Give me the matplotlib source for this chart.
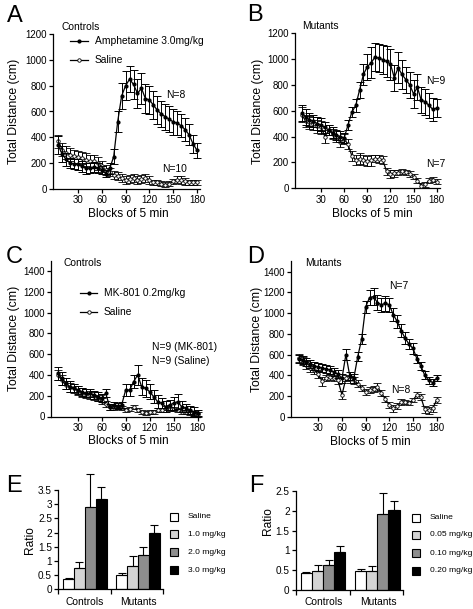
import numpy as np
import matplotlib
matplotlib.use("Agg")
import matplotlib.pyplot as plt
from matplotlib.lines import Line2D
from matplotlib.patches import Rectangle

plt.rcParams['font.family'] = ['Liberation Sans', 'DejaVu Sans']

W, H = 473, 609

# ---------------- data ----------------
blocks = list(range(5, 185, 5))

# Panel A (controls, amphetamine)
amph_ctrl = [340, 270, 230, 200, 195, 190, 175, 160, 165, 170, 165, 150, 120, 160, 250, 520,
             720, 800, 850, 810, 740, 780, 700, 690, 650, 610, 580, 560, 540, 520, 510, 490,
             460, 420, 350, 300]
amph_ctrl_err = [70, 60, 50, 40, 40, 40, 40, 40, 40, 40, 40, 30, 30, 40, 60, 80, 100, 110, 100,
                 110, 110, 120, 110, 110, 110, 110, 100, 100, 100, 100, 90, 90, 90, 80, 70, 60]
sal_ctrl_a = [370, 305, 280, 265, 255, 248, 240, 227, 214, 214, 200, 175, 145, 130, 110, 98,
              85, 72, 77, 85, 72, 77, 85, 72, 52, 52, 41, 34, 41, 59, 72, 67, 59, 52, 52, 52]
sal_ctrl_a_err = [50, 50, 50, 50, 50, 50, 50, 50, 50, 50, 50, 40, 40, 30, 30, 30, 30, 30, 30, 30,
                  30, 30, 30, 30, 20, 20, 20, 20, 20, 20, 25, 30, 30, 20, 20, 20]

# Panel B (mutants, amphetamine)
amph_mut = [580, 550, 530, 520, 500, 490, 470, 450, 430, 410, 400, 390, 490, 590, 640, 760,
            880, 940, 970, 1015, 1005, 995, 980, 960, 855, 930, 880, 840, 800, 730, 780, 680,
            670, 640, 610, 620]
amph_mut_err = [60, 60, 50, 50, 50, 50, 40, 40, 40, 40, 40, 40, 40, 40, 50, 60, 80, 100, 120,
                110, 110, 110, 120, 120, 100, 120, 110, 100, 100, 110, 100, 100, 100, 100, 90, 70]
sal_mut_b = [570, 520, 510, 500, 480, 470, 400, 450, 420, 400, 360, 380, 340, 250, 220, 230,
             220, 210, 215, 230, 225, 220, 130, 110, 115, 120, 130, 125, 110, 90, 60, 20, 30,
             60, 65, 50]
sal_mut_b_err = [60, 50, 50, 50, 50, 50, 50, 40, 40, 40, 40, 40, 40, 40, 40, 40, 40, 40, 40, 30,
                 30, 30, 30, 30, 30, 20, 20, 20, 20, 20, 20, 20, 20, 20, 20, 20]

# Panel C (controls, MK-801)
mk_ctrl = [415, 367, 319, 287, 271, 255, 239, 223, 223, 207, 191, 175, 223, 95, 111, 101, 111,
           255, 255, 335, 400, 287, 271, 239, 191, 143, 127, 95, 111, 127, 143, 95, 79, 63, 47, 37]
mk_ctrl_err = [60, 60, 50, 50, 40, 40, 40, 40, 40, 40, 40, 40, 40, 30, 30, 30, 30, 60, 60, 60,
               100, 80, 80, 70, 60, 60, 50, 50, 50, 60, 70, 50, 40, 40, 40, 30]
sal_ctrl_c = [400, 350, 300, 280, 270, 250, 230, 220, 210, 200, 180, 150, 120, 90, 80, 90, 80,
              60, 70, 90, 60, 40, 30, 40, 40, 60, 60, 80, 70, 70, 60, 40, 40, 30, 30, 20]
sal_ctrl_c_err = [50, 50, 40, 40, 40, 40, 40, 40, 40, 40, 30, 30, 30, 30, 20, 20, 20, 20, 20,
                  20, 20, 20, 20, 20, 20, 20, 20, 20, 20, 20, 20, 20, 20, 20, 20, 20]

# Panel D (mutants, MK-801)
mk_mut = [560, 550, 530, 510, 490, 480, 470, 460, 450, 430, 410, 370, 600, 390, 370, 580, 750,
          1060, 1150, 1160, 1100, 1080, 1095, 1080, 985, 920, 830, 760, 700, 660, 560, 490, 400,
          350, 330, 370]
mk_mut_err = [40, 40, 40, 40, 40, 40, 40, 40, 40, 40, 40, 40, 50, 40, 40, 40, 50, 60, 70, 80,
              70, 70, 70, 70, 60, 60, 60, 60, 50, 50, 40, 40, 40, 30, 30, 30]
sal_mut_d = [570, 540, 500, 470, 450, 410, 340, 370, 380, 370, 350, 210, 370, 360, 350, 320,
             280, 240, 255, 270, 290, 230, 170, 110, 80, 100, 140, 140, 135, 160, 210, 190, 70,
             60, 80, 160]
sal_mut_d_err = [40, 40, 40, 40, 40, 40, 40, 30, 30, 30, 30, 40, 30, 30, 30, 30, 30, 30, 30, 30,
                 40, 30, 30, 30, 30, 30, 30, 20, 20, 20, 30, 30, 30, 30, 30, 30]

# Panel E (amphetamine dose ratios)
groups = ["Controls", "Mutants"]
amph_doses = ["Saline", "1.0 mg/kg", "2.0 mg/kg", "3.0 mg/kg"]
amph_ratio_ctrl = [0.38, 0.76, 2.89, 3.18]
amph_ratio_ctrl_err = [0.03, 0.2, 1.18, 0.42]
amph_ratio_mut = [0.5, 0.83, 1.2, 2.0]
amph_ratio_mut_err = [0.06, 0.35, 0.3, 0.25]

# Panel F (MK-801 dose ratios)
mk_doses = ["Saline", "0.05 mg/kg", "0.10 mg/kg", "0.20 mg/kg"]
mk_ratio_ctrl = [0.42, 0.47, 0.63, 0.95]
mk_ratio_ctrl_err = [0.03, 0.17, 0.14, 0.16]
mk_ratio_mut = [0.48, 0.48, 1.93, 2.03]
mk_ratio_mut_err = [0.05, 0.13, 0.52, 0.23]

bar_colors = ["white", "#d4d4d4", "#8e8e8e", "black"]

# ---------------- helpers ----------------
fig = plt.figure(figsize=(W / 100, H / 100), dpi=100)


def add_ax(left, right, top, bottom):
    return fig.add_axes([left / W, 1 - bottom / H, (right - left) / W, (bottom - top) / H])


def ftext(x, y, s, **kw):
    fig.text(x / W, 1 - y / H, s, **kw)


def style(ax, fs=7):
    for sp in ["top", "right"]:
        ax.spines[sp].set_visible(False)
    for sp in ["left", "bottom"]:
        ax.spines[sp].set_linewidth(0.9)
    ax.tick_params(direction="out", length=3, width=0.9, labelsize=fs, pad=1.5)


def series(ax, x, y, e, filled):
    kw = dict(fmt="-o", color="black", lw=0.9, elinewidth=0.7, capsize=2.6, capthick=0.7,
              clip_on=False)
    if filled:
        ax.errorbar(x, y, yerr=e, ms=2.0, mfc="black", mec="black", zorder=4, **kw)
    else:
        ax.errorbar(x, y, yerr=e, ms=2.5, mfc="white", mec="black", mew=0.6, zorder=3, **kw)


def legend_entry(x0, x1, y, label, filled):
    xs = [x0 / W, x1 / W]
    ys = [1 - y / H] * 2
    fig.add_artist(Line2D(xs, ys, color="black", lw=0.9))
    xm = (x0 + x1) / 2 / W
    if filled:
        fig.add_artist(Line2D([xm], [ys[0]], marker="o", ms=2.0, color="black"))
    else:
        fig.add_artist(Line2D([xm], [ys[0]], marker="o", ms=2.5, mfc="white", mec="black",
                              mew=0.6, color="black"))
    ftext(x1 + 7, y, label, fontsize=7.4, va="center", ha="left")


def line_panel(ax, xlim, ylim, yticks, sal, sal_e, drug, drug_e):
    series(ax, blocks, sal, sal_e, False)
    series(ax, blocks, drug, drug_e, True)
    ax.set_xlim(*xlim)
    ax.set_ylim(*ylim)
    ax.set_xticks([30, 60, 90, 120, 150, 180])
    ax.set_yticks(yticks)
    style(ax)


# ---------------- panels A-D ----------------
axA = add_ax(53, 200, 34, 189)
line_panel(axA, (-1.5, 183.8), (0, 1200), range(0, 1201, 200), sal_ctrl_a, sal_ctrl_a_err,
           amph_ctrl, amph_ctrl_err)
axB = add_ax(295, 440, 33, 188.3)
line_panel(axB, (-3.8, 184.3), (0, 1200), range(0, 1201, 200), sal_mut_b, sal_mut_b_err,
           amph_mut, amph_mut_err)
axC = add_ax(51, 200, 260.6, 416.5)
line_panel(axC, (-3.4, 183), (0, 1500), range(0, 1401, 200), sal_ctrl_c, sal_ctrl_c_err,
           mk_ctrl, mk_ctrl_err)
axD = add_ax(291, 440, 261.3, 416.7)
line_panel(axD, (-4.6, 184.3), (0, 1500), range(0, 1401, 200), sal_mut_d, sal_mut_d_err,
           mk_mut, mk_mut_err)

# panel letters
for s, x, y in [("A", 7, 22), ("B", 247, 21), ("C", 6, 263), ("D", 247, 263),
                ("E", 6, 492), ("F", 249, 492)]:
    ftext(x, y, s, fontsize=17, va="baseline", ha="left")

# subtitles
ftext(61, 30, "Controls", fontsize=7.4, va="baseline")
ftext(302, 29, "Mutants", fontsize=7.4, va="baseline")
ftext(63, 265.5, "Controls", fontsize=7.4, va="baseline")
ftext(305, 265.5, "Mutants", fontsize=7.4, va="baseline")

# legends
legend_entry(70, 88, 40.7, "Amphetamine 3.0mg/kg", True)
legend_entry(70, 88, 60, "Saline", False)
legend_entry(80, 97, 292.7, "MK-801 0.2mg/kg", True)
legend_entry(80, 97, 312.3, "Saline", False)

# N labels
ftext(176, 95, "N=8", fontsize=7.4, ha="center", va="center")
ftext(175, 169, "N=10", fontsize=7.4, ha="center", va="center")
ftext(436, 81, "N=9", fontsize=7.4, ha="center", va="center")
ftext(436, 164, "N=7", fontsize=7.4, ha="center", va="center")
ftext(152, 346.7, "N=9 (MK-801)", fontsize=7.4, ha="left", va="center")
ftext(152, 360.7, "N=9 (Saline)", fontsize=7.4, ha="left", va="center")
ftext(399, 286, "N=7", fontsize=7.4, ha="center", va="center")
ftext(401, 390, "N=8", fontsize=7.4, ha="center", va="center")

# axis labels
for x, y in [(128.5, 214), (372, 214), (128.5, 441.5), (370, 442)]:
    ftext(x, y, "Blocks of 5 min", fontsize=8.6, ha="center", va="center")
for x, y in [(14, 111.5), (258, 111), (14, 338), (257, 339)]:
    ftext(x, y, "Total Distance (cm)", fontsize=8.8, ha="center", va="center", rotation=90)


# ---------------- panels E-F ----------------
def bar_panel(ax, ctrl, ctrl_e, mut, mut_e, ymax, yticks, ylabels):
    width = 0.205
    offs = (np.arange(4) - 1.5) * width
    for i in range(4):
        vals = [ctrl[i], mut[i]]
        errs = [ctrl_e[i], mut_e[i]]
        xs = np.arange(2) + offs[i]
        ax.bar(xs, vals, width=width, color=bar_colors[i], edgecolor="black", linewidth=0.8,
               zorder=2)
        ax.errorbar(xs, vals, yerr=[[0, 0], errs], fmt="none", ecolor="black", elinewidth=0.8,
                    capsize=2.6, capthick=0.8, clip_on=False, zorder=3)
    ax.set_ylim(0, ymax)
    ax.set_yticks(yticks)
    ax.set_yticklabels(ylabels)
    ax.set_xticks([])
    ax.set_xticks([-0.5, 0.5, 1.47], minor=True)
    style(ax, fs=7.2)
    ax.tick_params(axis="x", which="minor", length=3.5, width=0.9)


axE = add_ax(58.3, 163, 490, 589.3)
bar_panel(axE, amph_ratio_ctrl, amph_ratio_ctrl_err, amph_ratio_mut, amph_ratio_mut_err, 3.5,
          [0, 0.5, 1, 1.5, 2, 2.5, 3, 3.5], ["0", "0.5", "1", "1.5", "2", "2.5", "3", "3.5"])
axE.set_xlim(-0.5, 1.47)
axF = add_ax(296, 403.3, 491, 590)
bar_panel(axF, mk_ratio_ctrl, mk_ratio_ctrl_err, mk_ratio_mut, mk_ratio_mut_err, 2.5,
          [0, 0.5, 1, 1.5, 2, 2.5], ["0", "0.5", "1", "1.5", "2", "2.5"])
axF.set_xlim(-0.5, 1.48)

ftext(85, 602, groups[0], fontsize=7.4, ha="center", va="center")
ftext(138.5, 602, groups[1], fontsize=7.4, ha="center", va="center")
ftext(324, 602, groups[0], fontsize=7.4, ha="center", va="center")
ftext(378, 602, groups[1], fontsize=7.4, ha="center", va="center")
ftext(30, 540, "Ratio", fontsize=8.6, ha="center", va="center", rotation=90)
ftext(268, 521, "Ratio", fontsize=8.6, ha="center", va="center", rotation=90)


def bar_legend(x0, ys, labels):
    for i, (y, lab) in enumerate(zip(ys, labels)):
        fig.add_artist(Rectangle((x0 / W, 1 - (y + 4) / H), 8 / W, 8 / H,
                                 facecolor=bar_colors[i], edgecolor="black", lw=0.8,
                                 transform=fig.transFigure))
        ftext(x0 + 18, y, lab, fontsize=6.1, ha="left", va="center")


bar_legend(170, [516.7, 534.3, 552.3, 570], amph_doses)
bar_legend(412, [517.7, 535, 553.3, 571], mk_doses)

fig.savefig("out.png", dpi=100)
